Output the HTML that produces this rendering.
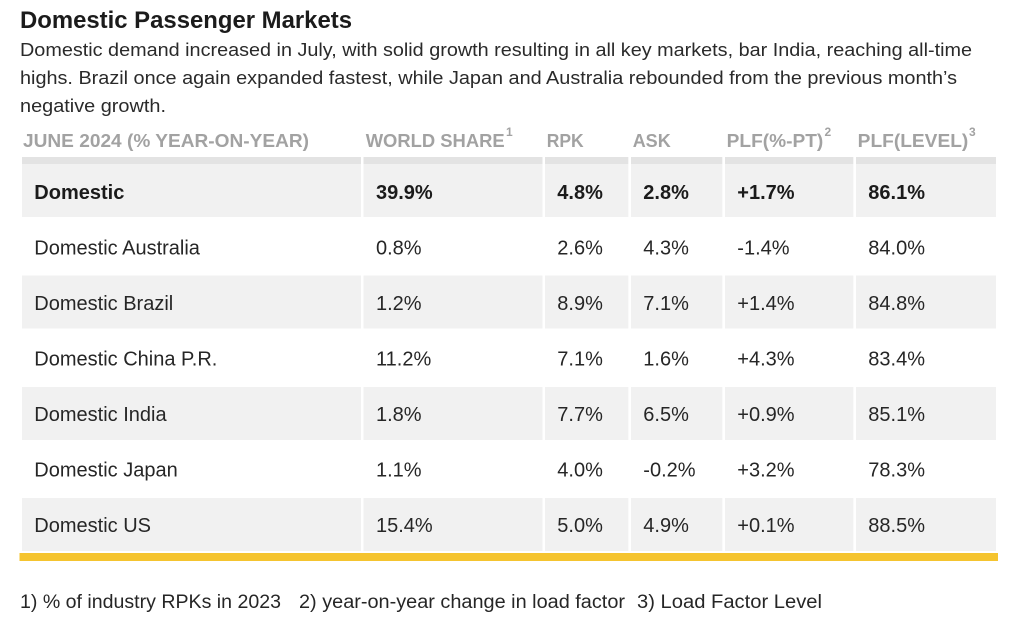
<!DOCTYPE html>
<html>
<head>
<meta charset="utf-8">
<style>
html,body{margin:0;padding:0;background:#fff;}
body{width:1020px;height:624px;overflow:hidden;}
svg{display:block;}
text{font-family:"Liberation Sans",Arial,sans-serif;}
.t{font-size:24px;font-weight:bold;fill:#1b1b1b;}
.p{font-size:18.5px;fill:#2a2a2a;}
.h{font-size:18.5px;font-weight:bold;fill:#a2a2a2;}
.s{font-size:12px;font-weight:bold;fill:#a2a2a2;}
.c{font-size:20px;fill:#262626;}
.b{font-size:20px;font-weight:bold;fill:#1b1b1b;}
.f{font-size:19px;fill:#262626;}
</style>
</head>
<body>
<svg width="1020" height="624" viewBox="0 0 1020 624" xmlns="http://www.w3.org/2000/svg">
<rect x="0" y="0" width="1020" height="624" fill="#fff"/>
<!-- Title -->
<text class="t" x="20" y="28" textLength="332" lengthAdjust="spacingAndGlyphs">Domestic Passenger Markets</text>
<!-- Paragraph -->
<text class="p" x="20" y="56" textLength="952" lengthAdjust="spacingAndGlyphs">Domestic demand increased in July, with solid growth resulting in all key markets, bar India, reaching all-time</text>
<text class="p" x="20" y="84" textLength="937" lengthAdjust="spacingAndGlyphs">highs. Brazil once again expanded fastest, while Japan and Australia rebounded from the previous month’s</text>
<text class="p" x="20" y="112" textLength="146" lengthAdjust="spacingAndGlyphs">negative growth.</text>

<!-- Header -->
<text class="h" x="23" y="147" textLength="286" lengthAdjust="spacingAndGlyphs">JUNE 2024 (% YEAR-ON-YEAR)</text>
<text class="h" x="365.7" y="147" textLength="139" lengthAdjust="spacingAndGlyphs">WORLD SHARE</text>
<text class="s" x="506" y="136">1</text>
<text class="h" x="546.7" y="147" textLength="37" lengthAdjust="spacingAndGlyphs">RPK</text>
<text class="h" x="632.7" y="147" textLength="38" lengthAdjust="spacingAndGlyphs">ASK</text>
<text class="h" x="726.7" y="147" textLength="96.6" lengthAdjust="spacingAndGlyphs">PLF(%-PT)</text>
<text class="s" x="824.5" y="136">2</text>
<text class="h" x="857.7" y="147" textLength="110.6" lengthAdjust="spacingAndGlyphs">PLF(LEVEL)</text>
<text class="s" x="969" y="136">3</text>

<!-- Header band -->
<g fill="#e3e3e3">
<rect x="22" y="157" width="339" height="7"/>
<rect x="363.5" y="157" width="179" height="7"/>
<rect x="545" y="157" width="83.3" height="7"/>
<rect x="631" y="157" width="91.3" height="7"/>
<rect x="725" y="157" width="128.3" height="7"/>
<rect x="856" y="157" width="140" height="7"/>
</g>

<!-- Striped rows -->
<g fill="#f1f1f1">
<g id="r0">
<rect x="22" y="164" width="339" height="53"/>
<rect x="363.5" y="164" width="179" height="53"/>
<rect x="545" y="164" width="83.3" height="53"/>
<rect x="631" y="164" width="91.3" height="53"/>
<rect x="725" y="164" width="128.3" height="53"/>
<rect x="856" y="164" width="140" height="53"/>
</g>
<g transform="translate(0,111.5)">
<rect x="22" y="164" width="339" height="53"/>
<rect x="363.5" y="164" width="179" height="53"/>
<rect x="545" y="164" width="83.3" height="53"/>
<rect x="631" y="164" width="91.3" height="53"/>
<rect x="725" y="164" width="128.3" height="53"/>
<rect x="856" y="164" width="140" height="53"/>
</g>
<g transform="translate(0,223)">
<rect x="22" y="164" width="339" height="53"/>
<rect x="363.5" y="164" width="179" height="53"/>
<rect x="545" y="164" width="83.3" height="53"/>
<rect x="631" y="164" width="91.3" height="53"/>
<rect x="725" y="164" width="128.3" height="53"/>
<rect x="856" y="164" width="140" height="53"/>
</g>
<g transform="translate(0,334)">
<rect x="22" y="164" width="339" height="53"/>
<rect x="363.5" y="164" width="179" height="53"/>
<rect x="545" y="164" width="83.3" height="53"/>
<rect x="631" y="164" width="91.3" height="53"/>
<rect x="725" y="164" width="128.3" height="53"/>
<rect x="856" y="164" width="140" height="53"/>
</g>
</g>

<!-- Row 1 (bold) -->
<text class="b" x="34.3" y="199">Domestic</text>
<text class="b" x="376" y="199">39.9%</text>
<text class="b" x="557.3" y="199">4.8%</text>
<text class="b" x="643.3" y="199">2.8%</text>
<text class="b" x="737.3" y="199">+1.7%</text>
<text class="b" x="868.3" y="199">86.1%</text>

<!-- Australia -->
<text class="c" x="34.3" y="254.5">Domestic Australia</text>
<text class="c" x="376" y="254.5">0.8%</text>
<text class="c" x="557.3" y="254.5">2.6%</text>
<text class="c" x="643.3" y="254.5">4.3%</text>
<text class="c" x="737.3" y="254.5">-1.4%</text>
<text class="c" x="868.3" y="254.5">84.0%</text>

<!-- Brazil -->
<text class="c" x="34.3" y="310">Domestic Brazil</text>
<text class="c" x="376" y="310">1.2%</text>
<text class="c" x="557.3" y="310">8.9%</text>
<text class="c" x="643.3" y="310">7.1%</text>
<text class="c" x="737.3" y="310">+1.4%</text>
<text class="c" x="868.3" y="310">84.8%</text>

<!-- China -->
<text class="c" x="34.3" y="365.5">Domestic China P.R.</text>
<text class="c" x="376" y="365.5">11.2%</text>
<text class="c" x="557.3" y="365.5">7.1%</text>
<text class="c" x="643.3" y="365.5">1.6%</text>
<text class="c" x="737.3" y="365.5">+4.3%</text>
<text class="c" x="868.3" y="365.5">83.4%</text>

<!-- India -->
<text class="c" x="34.3" y="421">Domestic India</text>
<text class="c" x="376" y="421">1.8%</text>
<text class="c" x="557.3" y="421">7.7%</text>
<text class="c" x="643.3" y="421">6.5%</text>
<text class="c" x="737.3" y="421">+0.9%</text>
<text class="c" x="868.3" y="421">85.1%</text>

<!-- Japan -->
<text class="c" x="34.3" y="476.5">Domestic Japan</text>
<text class="c" x="376" y="476.5">1.1%</text>
<text class="c" x="557.3" y="476.5">4.0%</text>
<text class="c" x="643.3" y="476.5">-0.2%</text>
<text class="c" x="737.3" y="476.5">+3.2%</text>
<text class="c" x="868.3" y="476.5">78.3%</text>

<!-- US -->
<text class="c" x="34.3" y="532">Domestic US</text>
<text class="c" x="376" y="532">15.4%</text>
<text class="c" x="557.3" y="532">5.0%</text>
<text class="c" x="643.3" y="532">4.9%</text>
<text class="c" x="737.3" y="532">+0.1%</text>
<text class="c" x="868.3" y="532">88.5%</text>

<!-- Yellow bar -->
<rect x="19.5" y="553" width="978.5" height="8" fill="#f5c42f"/>

<!-- Footnotes -->
<text class="f" x="20" y="608" textLength="261" lengthAdjust="spacingAndGlyphs">1) % of industry RPKs in 2023</text>
<text class="f" x="299" y="608" textLength="326" lengthAdjust="spacingAndGlyphs">2) year-on-year change in load factor</text>
<text class="f" x="637" y="608" textLength="185" lengthAdjust="spacingAndGlyphs">3) Load Factor Level</text>
</svg>
</body>
</html>
